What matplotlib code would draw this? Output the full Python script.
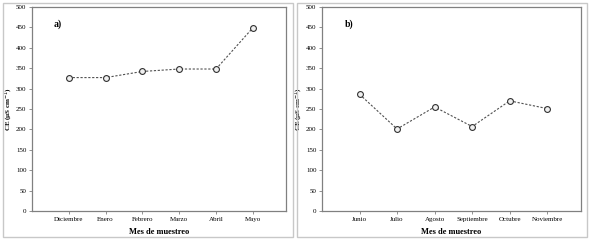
import matplotlib.pyplot as plt
from matplotlib.patches import Rectangle

meses_a = ["Diciembre", "Enero", "Febrero", "Marzo", "Abril", "Mayo"]
ce_a = [327, 327, 342, 348, 348, 449]

meses_b = ["Junio", "Julio", "Agosto", "Septiembre", "Octubre", "Noviembre"]
ce_b = [286, 201, 255, 207, 270, 251]

plt.rcParams["font.family"] = ["Liberation Serif", "DejaVu Serif"]

fig = plt.figure(figsize=(5.89, 2.41), dpi=100)

# gray frames around each panel
for x0, x1 in [(3, 293), (297, 587)]:
    fig.patches.append(Rectangle((x0 / 589, 4 / 241), (x1 - x0) / 589, 234 / 241,
                                 transform=fig.transFigure, fill=False,
                                 edgecolor="#c8c8c8", linewidth=1.0))

panels = [
    ([32, 286], meses_a, ce_a, "a)"),
    ([322, 581], meses_b, ce_b, "b)"),
]

for (px0, px1), meses, ce, tag in panels:
    ax = fig.add_axes([px0 / 589, 30 / 241, (px1 - px0) / 589, 204 / 241])
    x = list(range(1, len(meses) + 1))
    ax.plot(x, ce, linestyle=(0, (2, 1.5)), color="#505050", linewidth=0.8,
            marker="o", markersize=4.2, markerfacecolor="#f0f0f0",
            markeredgecolor="#303030", markeredgewidth=0.8)
    ax.set_xlim(0, 6.9)
    ax.set_ylim(0, 500)
    ax.set_yticks(range(0, 501, 50))
    ax.set_xticks(x)
    ax.set_xticklabels(meses)
    ax.tick_params(labelsize=5, length=2, width=0.6, color="#808080", pad=2)
    for s in ax.spines.values():
        s.set_color("#808080")
        s.set_linewidth(0.9)
    ax.set_xlabel("Mes de muestreo", fontsize=6, fontweight="bold", labelpad=5)
    ax.set_ylabel("CE (µS cm$^{-1}$)", fontsize=5, fontweight="bold")
    ax.yaxis.set_label_coords(-17 / (px1 - px0), 0.5)
    ax.text(0.6, 457, tag, fontsize=7, fontweight="bold", ha="left", va="center")

fig.savefig("out.png", dpi=100)
